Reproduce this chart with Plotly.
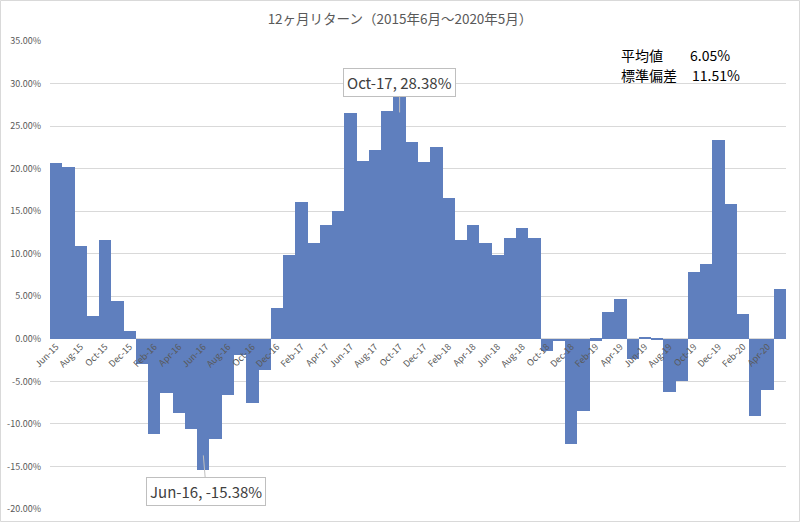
import plotly.graph_objects as go

months = ["Jun-15","Jul-15","Aug-15","Sep-15","Oct-15","Nov-15","Dec-15",
          "Jan-16","Feb-16","Mar-16","Apr-16","May-16","Jun-16","Jul-16","Aug-16","Sep-16","Oct-16","Nov-16","Dec-16",
          "Jan-17","Feb-17","Mar-17","Apr-17","May-17","Jun-17","Jul-17","Aug-17","Sep-17","Oct-17","Nov-17","Dec-17",
          "Jan-18","Feb-18","Mar-18","Apr-18","May-18","Jun-18","Jul-18","Aug-18","Sep-18","Oct-18","Nov-18","Dec-18",
          "Jan-19","Feb-19","Mar-19","Apr-19","May-19","Jun-19","Jul-19","Aug-19","Sep-19","Oct-19","Nov-19","Dec-19",
          "Jan-20","Feb-20","Mar-20","Apr-20","May-20"]

returns = [20.67, 20.15, 10.94, 2.74, 11.65, 4.39, 0.94,
           -2.98, -11.20, -6.40, -8.67, -10.60, -15.38, -11.76, -6.59, -1.88, -7.49, -3.65, 3.60,
           9.85, 16.10, 11.30, 13.36, 15.08, 26.57, 20.95, 22.15, 26.73, 28.38, 23.10, 20.80,
           22.50, 16.50, 11.65, 13.40, 11.30, 9.85, 11.90, 13.00, 11.80, -1.40, -0.30, -12.40,
           -8.50, -0.20, 3.20, 4.65, -2.40, 0.20, -0.05, -6.20, -5.00, 7.80, 8.85, 23.40,
           15.90, 2.90, -9.10, -6.05, 5.80]

y_ticks = [-20, -15, -10, -5, 0, 5, 10, 15, 20, 25, 30, 35]
y_ticktext = ["-20.00%", "-15.00%", "-10.00%", "-5.00%", "0.00%", "5.00%", "10.00%",
              "15.00%", "20.00%", "25.00%", "30.00%", "35.00%"]
x_ticks = months[::2]

title_text = "12ヶ月リターン（2015年6月～2020年5月）"
stat_labels = ["平均値", "標準偏差"]
stat_values = ["6.05%", "11.51%"]
max_label = "Oct-17, 28.38%"
min_label = "Jun-16, -15.38%"

FONT = "Noto Sans CJK JP"
GRAY = "#595959"

fig = go.Figure()
fig.add_trace(go.Bar(x=months, y=returns, marker=dict(color="#5F7FBE", line=dict(width=0)),
                     hoverinfo="x+y"))

fig.update_layout(
    width=800, height=522,
    margin=dict(l=50, r=14, t=41, b=13),
    paper_bgcolor="white", plot_bgcolor="white",
    bargap=0,
    showlegend=False,
    font=dict(family=FONT, color=GRAY),
    title=dict(text=title_text, x=0.5, xanchor="center", y=0.964, yanchor="middle",
               automargin=False,
               font=dict(size=13.5, color=GRAY, family=FONT)),
    xaxis=dict(type="category", anchor="free", position=20/55, automargin=False,
               tickmode="array", tickvals=x_ticks, ticktext=x_ticks,
               tickangle=-45, tickfont=dict(size=9, color=GRAY, family=FONT),
               showgrid=False, showline=False, ticks="", zeroline=False),
    yaxis=dict(range=[-20, 35], tickmode="array", tickvals=y_ticks, ticktext=y_ticktext,
               automargin=False,
               tickfont=dict(size=9, color=GRAY, family=FONT),
               showgrid=True, gridcolor="#d9d9d9", gridwidth=1,
               zeroline=True, zerolinecolor="#d9d9d9", zerolinewidth=1,
               showline=False, ticks="", ticklabelstandoff=8),
)

# callouts
i_max = returns.index(max(returns))
i_min = returns.index(min(returns))
fig.add_annotation(x=months[i_max], y=26.6, xref="x", yref="y", text=max_label,
                   showarrow=True, arrowhead=0, arrowwidth=1, arrowcolor="#bfbfbf",
                   ax=0, ay=-30, bgcolor="white", bordercolor="#bfbfbf", borderwidth=1,
                   borderpad=3, font=dict(size=15, color="#404040", family=FONT))
fig.add_annotation(x=months[i_min], y=-13.7, xref="x", yref="y", text=min_label,
                   showarrow=True, arrowhead=0, arrowwidth=1, arrowcolor="#bfbfbf",
                   ax=3, ay=36, bgcolor="white", bordercolor="#bfbfbf", borderwidth=1,
                   borderpad=3, font=dict(size=15, color="#404040", family=FONT))

# stats text
stat_y = [0.971, 0.928]
for lab, val, yy, vx in zip(stat_labels, stat_values, stat_y, [688, 690]):
    fig.add_annotation(x=(619 - 50) / 736, y=yy, xref="paper", yref="paper", text=lab,
                       showarrow=False, xanchor="left", yanchor="middle",
                       font=dict(size=14, color="black", family=FONT))
    fig.add_annotation(x=(vx - 50) / 736, y=yy, xref="paper", yref="paper", text=val,
                       showarrow=False, xanchor="left", yanchor="middle",
                       font=dict(size=14, color="black", family=FONT))

# chart border
fig.add_shape(type="rect", xref="paper", yref="paper",
              x0=(0.5 - 50) / 736, x1=(799.5 - 50) / 736,
              y0=(509 - 521.5) / 468, y1=(509 - 0.5) / 468,
              line=dict(color="#d9d9d9", width=1), fillcolor="rgba(0,0,0,0)", layer="below")

fig.write_html("out.html", config={"displayModeBar": False},
               post_script="document.body.style.margin='0';document.body.style.padding='0';")
